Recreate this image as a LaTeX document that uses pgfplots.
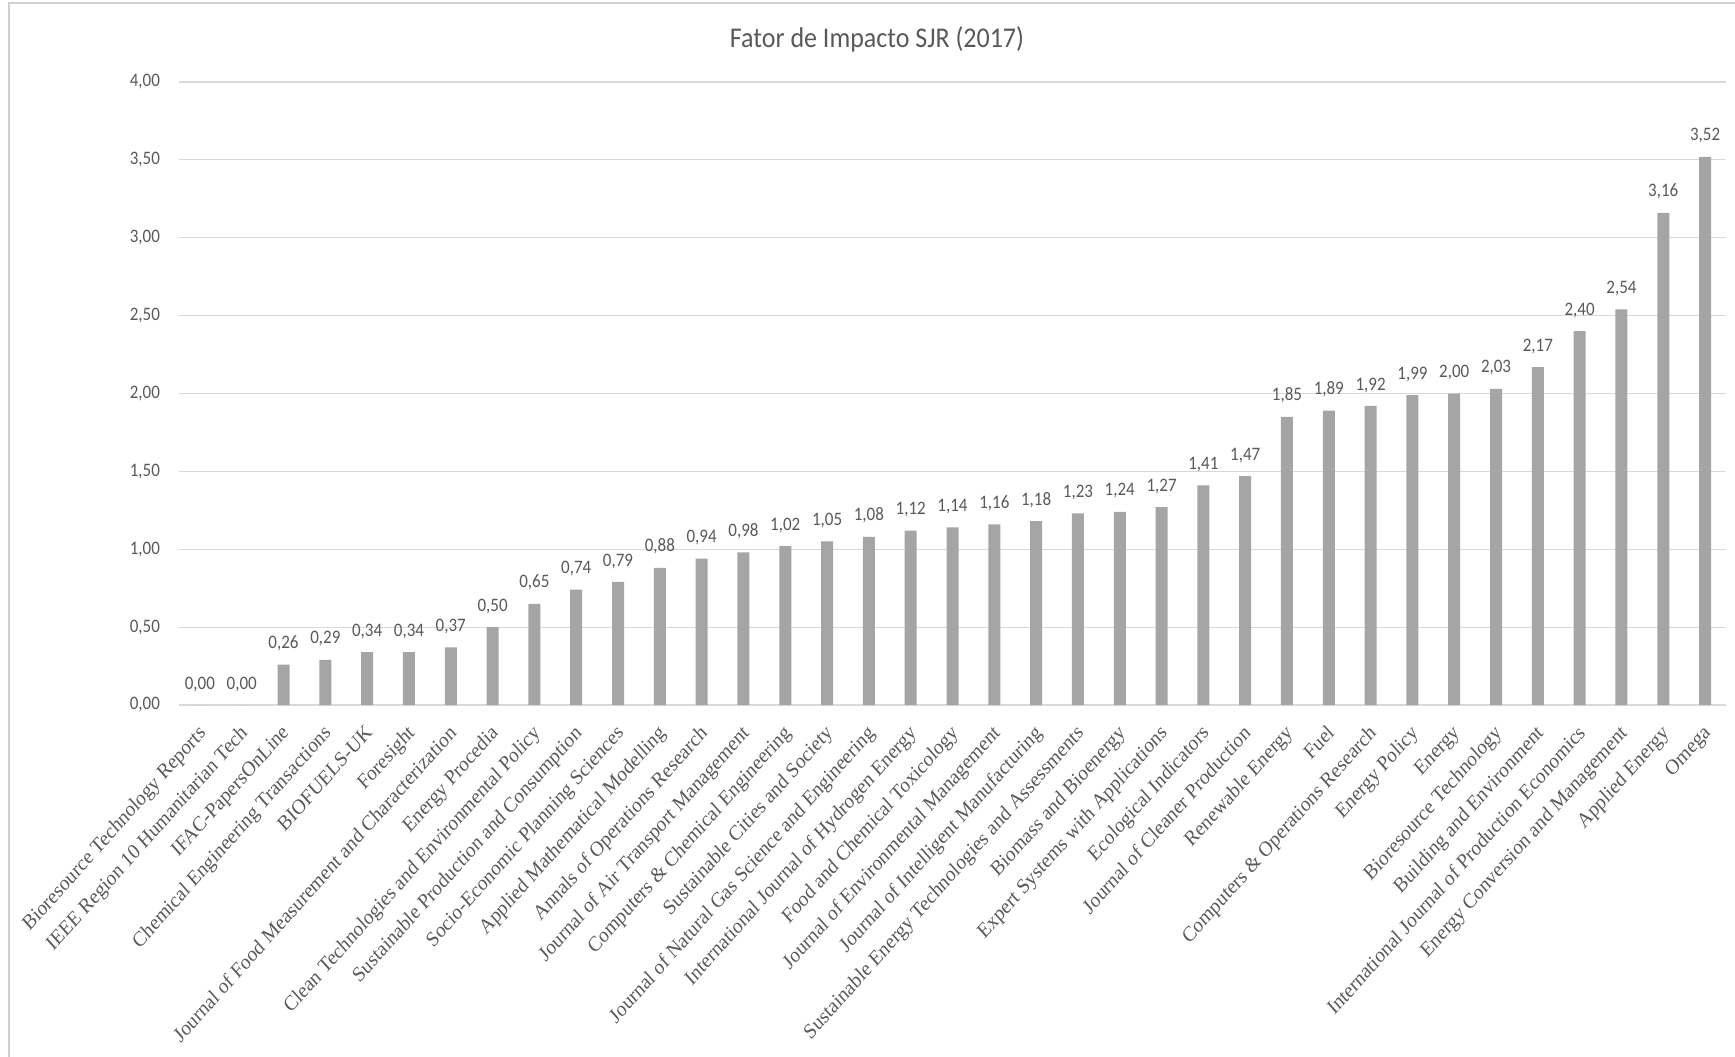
\documentclass[border=0pt]{standalone}
\usepackage{pgfplots}
\pgfplotsset{compat=1.18}
\usepackage{fontspec}
\setmainfont{Liberation Serif}
\newfontfamily\carlito{Carlito}
\definecolor{bargray}{HTML}{A5A5A5}
\definecolor{gridgray}{HTML}{D9D9D9}
\definecolor{txtgray}{HTML}{595959}
\definecolor{framegray}{HTML}{D0D0D0}
\pgfplotstableread{
x y
0 0.00
1 0.00
2 0.26
3 0.29
4 0.34
5 0.34
6 0.37
7 0.50
8 0.65
9 0.74
10 0.79
11 0.88
12 0.94
13 0.98
14 1.02
15 1.05
16 1.08
17 1.12
18 1.14
19 1.16
20 1.18
21 1.23
22 1.24
23 1.27
24 1.41
25 1.47
26 1.85
27 1.89
28 1.92
29 1.99
30 2.00
31 2.03
32 2.17
33 2.40
34 2.54
35 3.16
36 3.52
}\sjr
\begin{document}
\begin{tikzpicture}
\useasboundingbox (0,0) rectangle (867.5pt,528pt);
\draw[framegray, line width=0.6pt] (4.5pt,-10pt) -- (4.5pt,526.5pt) -- (880pt,526.5pt);
\node[font=\carlito\fontsize{13}{15}\selectfont, text=txtgray, yscale=1.1] at (438.5pt,508.5pt) {Fator de Impacto SJR (2017)};
\begin{axis}[
  at={(89.5pt,175.5pt)}, anchor=south west,
  scale only axis, width=773.5pt, height=311.5pt,
  xmin=-0.5, xmax=36.5, ymin=0, ymax=4,
  ytick={0,0.5,...,4},
  ymajorgrids, grid style={gridgray, line width=0.6pt},
  axis line style={draw=none},
  tick style={draw=none},
  major tick length=0pt,
  ybar, bar width=6pt,
  xtick=data,
  xticklabels={Bioresource Technology Reports, IEEE Region 10 Humanitarian Tech, IFAC-PapersOnLine, Chemical Engineering Transactions, BIOFUELS-UK, Foresight, Journal of Food Measurement and Characterization, Energy Procedia, Clean Technologies and Environmental Policy, Sustainable Production and Consumption, Socio-Economic Planning Sciences, Applied Mathematical Modelling, Annals of Operations Research, Journal of Air Transport Management, Computers \& Chemical Engineering, Sustainable Cities and Society, Journal of Natural Gas Science and Engineering, International Journal of Hydrogen Energy, Food and Chemical Toxicology, Journal of Environmental Management, Journal of Intelligent Manufacturing, Sustainable Energy Technologies and Assessments, Biomass and Bioenergy, Expert Systems with Applications, Ecological Indicators, Journal of Cleaner Production, Renewable Energy, Fuel, Computers \& Operations Research, Energy Policy, Energy, Bioresource Technology, Building and Environment, International Journal of Production Economics, Energy Conversion and Management, Applied Energy, Omega},
  xticklabel style={xshift=-1.5pt, yshift=-9pt, yscale=1.12, rotate=45, anchor=north east, inner sep=0pt, font=\fontsize{9.5}{11}\selectfont, text=txtgray},
  yticklabel style={font=\carlito\fontsize{8.5}{10}\selectfont, text=txtgray, xshift=-6pt, yscale=1.12},
  /pgf/number format/.cd, fixed, fixed zerofill, precision=2, use comma, assume math mode=true,
  /pgfplots/.cd,
  nodes near coords,
  every node near coord/.append style={font=\carlito\fontsize{8.5}{10}\selectfont, text=txtgray, yscale=1.12, /pgf/number format/fixed, /pgf/number format/fixed zerofill, /pgf/number format/precision=2, /pgf/number format/use comma, /pgf/number format/assume math mode=true, yshift=2.5pt},
]
\addplot[fill=bargray, draw=none] table[x=x, y=y] {\sjr};
\end{axis}
\end{tikzpicture}
\end{document}
